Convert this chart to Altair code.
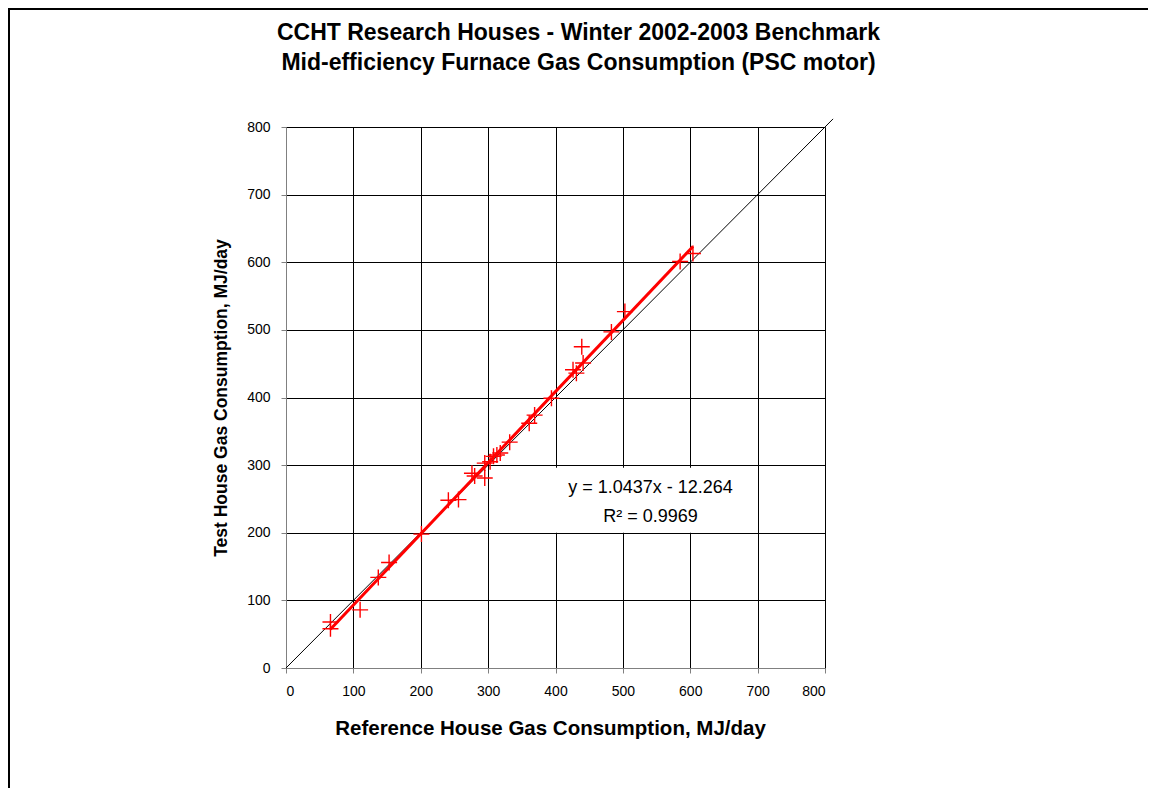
import altair as alt
import pandas as pd

# Data
ref_house = [66, 66, 110, 137, 153, 201, 241, 256, 276, 280, 295, 295, 303, 308,
             313, 318, 332, 361, 369, 394, 426, 431, 441, 439, 483, 503, 585, 604]
test_house = [58, 68, 86, 134, 156, 198, 248, 249, 288, 284, 281, 303, 305, 313,
              315, 318, 334, 362, 374, 399, 441, 436, 451, 475, 497, 527, 601, 613]

diag_x = [0, 812]
diag_y = [0, 812]

tick_vals = [0, 100, 200, 300, 400, 500, 600, 700, 800]

eq_lines = ["y = 1.0437x - 12.264", "R\u00b2 = 0.9969"]
eq_x = [541, 541]
eq_y = [266, 223]
box = {"x": [400], "x2": [680], "y": [200], "y2": [296]}

FONT = "Liberation Sans"

df = pd.DataFrame({"ref": ref_house, "test": test_house})
diag = pd.DataFrame({"ref": diag_x, "test": diag_y})
eq = pd.DataFrame({"label": eq_lines, "ref": eq_x, "test": eq_y})
boxdf = pd.DataFrame(box)

xs = alt.Scale(domain=[0, 800], nice=False)
ys = alt.Scale(domain=[0, 800], nice=False)

xaxis = alt.Axis(values=tick_vals, title="Reference House Gas Consumption, MJ/day",
                 grid=True, gridColor="black", gridWidth=1, gridOpacity=1,
                 domainColor="#808080", tickColor="#808080", tickSize=5,
                 labelFont=FONT, labelFontSize=14, labelColor="black", labelPadding=11,
                 titleFont=FONT, titleFontSize=20.5, titleFontWeight="bold",
                 titleColor="black", titlePadding=20, titleX=264)
yaxis = alt.Axis(values=tick_vals, title="Test House Gas Consumption, MJ/day",
                 grid=True, gridColor="black", gridWidth=1, gridOpacity=1,
                 domainColor="#808080", tickColor="#808080", tickSize=5,
                 labelFont=FONT, labelFontSize=14, labelColor="black", labelPadding=11,
                 titleFont=FONT, titleFontSize=17.5, titleFontWeight="bold",
                 titleColor="black", titlePadding=16)

rect = alt.Chart(boxdf).mark_rect(fill="white", stroke=None).encode(
    x=alt.X("x:Q", scale=xs, axis=xaxis), x2="x2:Q",
    y=alt.Y("y:Q", scale=ys, axis=yaxis), y2="y2:Q")

line11 = alt.Chart(diag).mark_line(color="black", strokeWidth=1).encode(
    x=alt.X("ref:Q", scale=xs), y=alt.Y("test:Q", scale=ys))

reg = alt.Chart(df).transform_regression("ref", "test").mark_line(
    color="red", strokeWidth=3).encode(
    x=alt.X("ref:Q", scale=xs), y=alt.Y("test:Q", scale=ys))

pts = alt.Chart(df).mark_point(shape="M-1,0L1,0M0,-1L0,1", filled=False,
                               color="red", size=256, strokeWidth=1.4, opacity=1).encode(
    x=alt.X("ref:Q", scale=xs), y=alt.Y("test:Q", scale=ys))

txt = alt.Chart(eq).mark_text(font=FONT, fontSize=18, color="black",
                              align="center", baseline="middle").encode(
    x=alt.X("ref:Q", scale=xs), y=alt.Y("test:Q", scale=ys), text="label:N")

# outer frame of the chart area (left and top edges)
frame_l = alt.Chart(pd.DataFrame({"a": [0]})).mark_rule(color="black", strokeWidth=2).encode(
    x=alt.value(-277), y=alt.value(-118), y2=alt.value(670))
frame_t = alt.Chart(pd.DataFrame({"a": [0]})).mark_rule(color="black", strokeWidth=2).encode(
    x=alt.value(-278), x2=alt.value(862), y=alt.value(-118))

chart = alt.layer(rect, line11, reg, pts, txt, frame_l, frame_t).properties(
    width=539, height=541,
    title=alt.TitleParams(
        ["CCHT Research Houses - Winter 2002-2003 Benchmark",
         "Mid-efficiency Furnace Gas Consumption (PSC motor)"],
        font=FONT, fontSize=23, fontWeight="bold", color="black",
        anchor="middle", dx=23, offset=-67, lineHeight=30),
    autosize=alt.AutoSizeParams(type="none"),
    padding={"left": 278, "top": 119, "right": 323, "bottom": 120},
).configure_view(stroke="#808080", strokeWidth=1).configure(background="white")

chart.save("out.html", embed_options={"renderer": "svg", "actions": False})
